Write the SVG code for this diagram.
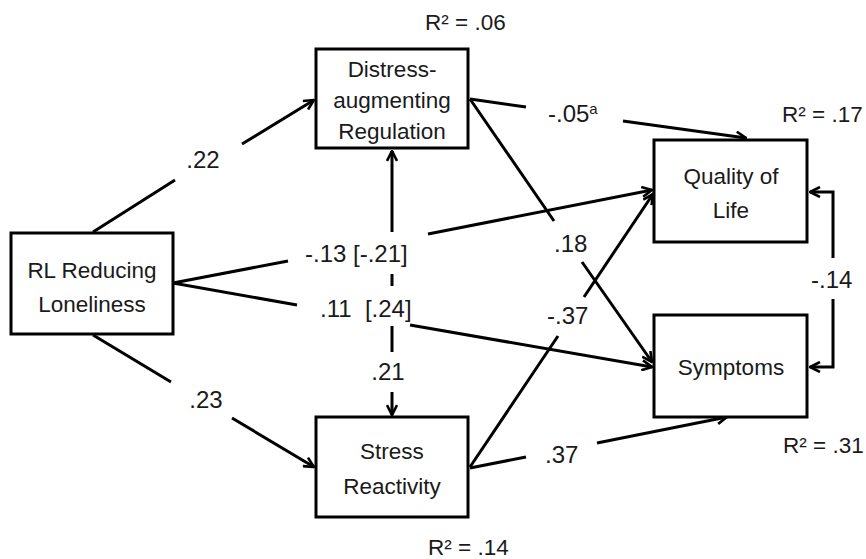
<svg xmlns="http://www.w3.org/2000/svg" width="866" height="559" viewBox="0 0 866 559">
<style>
text{font-family:"Liberation Sans",Arial,sans-serif;font-size:22.5px;fill:#1a1a1a}
.c{text-anchor:middle}
.e{font-size:24px}
.box{fill:#fff;stroke:#000;stroke-width:3}
.ln{fill:none;stroke:#000;stroke-width:3}
</style>
<defs>
<marker id="ah" viewBox="0 0 12 12" refX="11" refY="6" markerWidth="12" markerHeight="12" markerUnits="userSpaceOnUse" orient="auto-start-reverse">
<path d="M1,1 L11,6 L1,11" fill="none" stroke="#000" stroke-width="2.6"/>
</marker>
</defs>
<rect width="866" height="559" fill="#fff"/>
<g id="connectors">
<path class="ln" d="M93,232 L175,180 M242,144 L314,100" marker-end="url(#ah)"/>
<path class="ln" d="M93,335 L171,382 M232,418 L314,467" marker-end="url(#ah)"/>
<path class="ln" d="M173,283 L288,261 M428,234 L652,190" marker-end="url(#ah)"/>
<path class="ln" d="M173,283 L297,305 M410,325 L652,367" marker-end="url(#ah)"/>
<path class="ln" d="M470,99 L526,107 M623,121 L746,138" marker-end="url(#ah)"/>
<path class="ln" d="M470,99 L554,221 M582,262 L652,362" marker-end="url(#ah)"/>
<path class="ln" d="M470,467 L558,336 M584,297 L653,194" marker-end="url(#ah)"/>
<path class="ln" d="M470,468 L526,457 M597,443 L727,417" marker-end="url(#ah)"/>
<path class="ln" d="M392,151 L392,232 M392,274 L392,286 M392,326 L392,352 M392,392 L392,415" marker-start="url(#ah)" marker-end="url(#ah)"/>
<path class="ln" d="M810,192 L833,192 L833,258 M833,299 L833,367 L810,367" marker-start="url(#ah)" marker-end="url(#ah)"/>
</g>
<g id="edge-labels">
<text class="c e" x="203" y="168">.22</text>
<text class="c e" x="206" y="408">.23</text>
<text class="e" x="305" y="262">-.13 [-.21]</text>
<text class="e" x="320" y="317" xml:space="preserve">.11  [.24]</text>
<text class="c e" x="388" y="380">.21</text>
<text class="e" x="548" y="122">-.05<tspan font-size="15" dy="-8">a</tspan></text>
<text class="e" x="554" y="252">.18</text>
<text class="e" x="547" y="324">-.37</text>
<text class="e" x="545" y="463">.37</text>
<text class="e" x="811" y="288">-.14</text>
</g>
<g id="r2-labels">
<text x="425" y="30">R² = .06</text>
<text x="782" y="122">R² = .17</text>
<text x="783" y="453">R² = .31</text>
<text x="428" y="555">R² = .14</text>
</g>
<g id="node-rl">
<rect class="box" x="11" y="233" width="162" height="101"/>
<text class="c" x="92" y="278">RL Reducing</text>
<text class="c" x="92" y="312">Loneliness</text>
</g>
<g id="node-distress">
<rect class="box" x="316" y="49" width="152" height="99"/>
<text class="c" x="392" y="77">Distress-</text>
<text class="c" x="392" y="108">augmenting</text>
<text class="c" x="392" y="139">Regulation</text>
</g>
<g id="node-stress">
<rect class="box" x="316" y="417" width="152" height="100"/>
<text class="c" x="392" y="459">Stress</text>
<text class="c" x="392" y="494">Reactivity</text>
</g>
<g id="node-qol">
<rect class="box" x="654" y="140" width="153" height="102"/>
<text class="c" x="731" y="184">Quality of</text>
<text class="c" x="731" y="218">Life</text>
</g>
<g id="node-symptoms">
<rect class="box" x="654" y="315" width="153" height="102"/>
<text class="c" x="731" y="375">Symptoms</text>
</g>
</svg>
